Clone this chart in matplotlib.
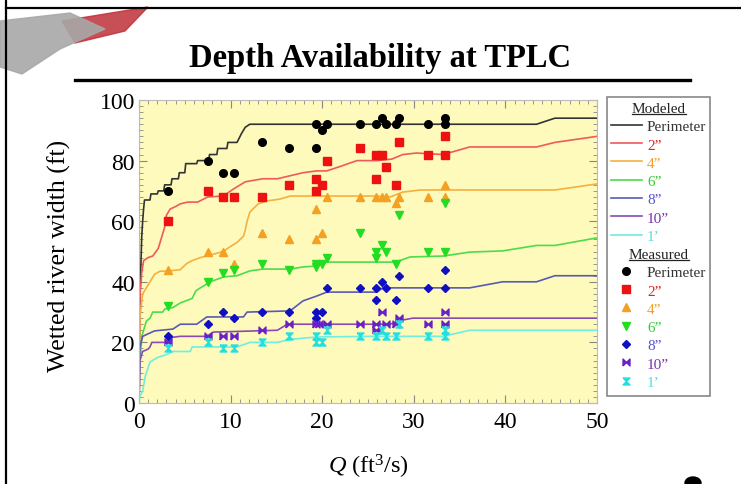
import numpy as np
import matplotlib
matplotlib.use("Agg")
import matplotlib.pyplot as plt
from matplotlib.lines import Line2D
from matplotlib.patches import Rectangle, Polygon, Ellipse
from matplotlib.path import Path

plt.rcParams['font.family'] = ['Liberation Serif', 'DejaVu Serif']
plt.rcParams['mathtext.fontset'] = 'custom'
plt.rcParams['mathtext.rm'] = 'Liberation Serif'
plt.rcParams['mathtext.it'] = 'Liberation Serif:italic'

# ---- modeled curves (Q in ft3/s, width in ft) ----
perim_q = [0.0, 0.05, 0.1, 0.2, 0.3, 0.4, 0.5, 0.6, 1.2, 1.3, 2.0, 2.1, 2.7, 2.8, 3.5, 3.6,
           4.3, 4.4, 5.0, 5.1, 6.3, 6.4, 7.6, 7.7, 8.5, 8.6, 9.6, 9.7, 10.7, 11.2, 11.6, 12.1,
           43.4, 45.4, 50.0]
perim_w = [0, 20, 35, 45, 55, 60, 64, 67, 67, 69, 69, 70, 70, 72, 72, 74,
           74, 76, 76, 79, 79, 80, 80, 82, 82, 84, 84, 86, 86, 89, 91, 92,
           92, 94, 94]

in2_q = [0, 0.05, 0.1, 0.3, 0.5, 1.0, 1.5, 2.1, 2.6, 2.8, 3.0, 3.4, 3.9, 4.5, 5.3, 6.4, 7.5,
         9.2, 10.3, 11.6, 13.5, 15.1, 16.5, 17.9, 19.4, 20.5, 21.9, 23.8, 26.0, 27.6, 28.8,
         30.3, 33.2, 36.1, 43.4, 45.4, 50]
in2_w = [0, 20, 35, 43, 47, 48, 48.5, 51, 56, 58, 62, 64, 64.7, 65.7, 66.3, 66.3, 68,
         68.3, 70.6, 73, 74, 74, 75, 76, 76.6, 76.6, 78, 80, 80, 80.5, 82,
         82.5, 82, 84.5, 84.5, 86, 88]

in4_q = [0, 0.05, 0.1, 0.4, 1.0, 1.7, 2.3, 3.0, 4.5, 5.2, 5.8, 6.7, 8.0, 9.2, 9.9, 10.7, 11.4,
         11.6, 11.8, 12.1, 13.0, 14.0, 15.4, 16.5, 26.0, 27.4, 28.8, 30.7, 45.4, 50]
in4_w = [0, 15, 28, 36, 39, 42.5, 43.5, 43.5, 44, 46, 47, 48, 49, 50, 51.5, 53, 55,
         57, 60, 63, 65.7, 66.7, 67.3, 68.3, 68.3, 68, 69.6, 70.3, 70.3, 72.3]

in6_q = [0, 0.05, 0.3, 0.8, 1.2, 1.5, 2.6, 2.8, 3.7, 4.5, 5.8, 6.2, 6.7, 7.8, 9.2, 10.7, 12.1,
         13.5, 16.5, 17.9, 19.4, 20.5, 28.0, 29.6, 33.2, 36.1, 39.7, 43.4, 45.4, 50]
in6_w = [0, 10, 22, 27, 28, 30, 30, 31, 31.5, 33, 34.5, 37, 38, 40, 41.6, 42, 43.6,
         44.2, 44.2, 44.9, 45.2, 46.5, 46.5, 48.2, 48.5, 49.8, 50.2, 52, 52, 54.5]

in8_q = [0, 0.05, 0.1, 0.4, 1.7, 3.7, 4.5, 6.3, 7.4, 11.4, 11.8, 16.5, 17.9, 19.4, 20.5, 26.0,
         26.6, 36.1, 39.7, 43.4, 45.4, 50]
in8_w = [0, 10, 18.5, 22, 23.8, 24.4, 26, 26, 28.4, 28.4, 30, 30.4, 33.7, 35.3, 36.6, 36.6,
         38, 38, 40, 40, 42, 42]

in10_q = [0, 0.05, 0.1, 0.4, 1.0, 1.2, 1.4, 3.0, 3.7, 4.5, 7.4, 8.1, 15.1, 16.2, 27.4, 28.8,
          29.9, 50]
in10_w = [0, 6, 14, 17, 17.8, 18.5, 20, 20, 21.7, 22, 22, 23.4, 24, 26, 26, 27.4,
          28, 28]

ft1_q = [0, 0.1, 0.4, 0.7, 1.2, 2.0, 3.0, 3.7, 5.6, 5.8, 10.7, 12.1, 15.1, 16.5, 19.4, 26.0,
         33.2, 36.1, 50]
ft1_w = [0, 2.3, 4, 9, 13.5, 15, 16, 17, 17, 18.5, 18.5, 20, 20, 21, 21.8, 22,
         22, 24, 24]

# ---- measured points ----
m_perim_q = [3.2, 7.5, 9.2, 10.4, 13.4, 16.4, 19.3, 19.3, 20.0, 20.5, 24.1, 25.9, 26.5, 27.0,
             28.1, 28.4, 31.6, 33.4, 33.4]
m_perim_w = [70, 80, 76, 76, 86, 84, 84, 92, 90, 92, 92, 92, 94, 92,
             92, 94, 92, 94, 92]

m_in2_q = [3.2, 7.5, 9.2, 10.4, 13.4, 16.4, 19.3, 19.3, 20.0, 20.5, 24.1, 25.9, 25.9, 26.5,
           27.0, 28.1, 28.4, 31.6, 33.4, 33.4]
m_in2_w = [60, 70, 68, 68, 68, 72, 74, 70, 72, 80, 84, 82, 74, 82,
           78, 72, 86, 82, 88, 82]

m_in4_q = [3.2, 7.5, 9.2, 10.4, 13.4, 16.4, 19.3, 19.3, 20.0, 20.5, 24.1, 25.9, 26.5, 27.0,
           28.1, 28.4, 31.6, 33.4, 33.4]
m_in4_w = [44, 50, 50, 46, 56, 54, 54, 64, 56, 68, 68, 68, 68, 68,
           66, 68, 68, 72, 68]

m_in6_q = [3.2, 7.5, 9.2, 10.4, 13.4, 16.4, 19.3, 19.3, 20.0, 20.5, 24.1, 25.9, 25.9, 26.5,
           27.0, 28.1, 28.4, 31.6, 33.4, 33.4]
m_in6_w = [32, 40, 43, 44, 46, 44, 46, 45, 46, 48, 56, 50, 48, 52,
           50, 46, 62, 50, 50, 66]

m_in8_q = [3.2, 7.5, 9.2, 10.4, 13.4, 16.4, 19.3, 19.3, 20.0, 20.5, 24.1, 25.9, 25.9, 26.5,
           27.0, 28.1, 28.4, 31.6, 33.4, 33.4]
m_in8_w = [22, 26, 30, 28, 30, 30, 30, 28, 30, 38, 38, 38, 34, 40,
           38, 34, 42, 38, 38, 44]

m_in10_q = [3.2, 7.5, 9.2, 10.4, 13.4, 16.4, 19.3, 19.7, 20.5, 24.1, 25.9, 25.9, 26.5, 27.0,
            28.1, 28.4, 31.6, 33.4, 33.4]
m_in10_w = [20, 22, 22, 22, 24, 26, 26, 26, 26, 26, 26, 24, 30, 26,
            26, 28, 26, 26, 30]

m_ft1_q = [3.2, 7.5, 9.2, 10.4, 13.4, 16.4, 19.3, 19.3, 20.0, 20.5, 24.1, 25.9, 26.5, 27.0,
           28.1, 28.4, 31.6, 33.4, 33.4]
m_ft1_w = [18, 20, 18, 18, 20, 22, 22, 20, 20, 24, 22, 22, 24, 22,
           22, 26, 22, 22, 24]

labels = ['Perimeter', '2\u201d', '4\u201d', '6\u201d', '8\u201d', '10\u201d', '1\u2019']
line_colors = ['#333333', '#f05a5a', '#f5b040', '#4cdc4c', '#5a5ab4', '#8a4ab0', '#70eee0']
mark_colors = ['#000000', '#ee1111', '#f5a020', '#22dd22', '#1010c0', '#6a20c8', '#22e0e0']
text_colors = ['#333333', '#dd2222', '#f0a030', '#33cc33', '#5555cc', '#7733aa', '#55dddd']

# custom bow-tie / hourglass markers
bowtie = Path([(-1, -1), (-1, 1), (0, 0), (1, 1), (1, -1), (0, 0), (-1, -1)])
hourglass = Path([(-1, 1), (1, 1), (0, 0), (1, -1), (-1, -1), (0, 0), (-1, 1)])
markers = ['o', 's', '^', 'v', 'D', bowtie, hourglass]
msizes = [5.5, 5.5, 5.5, 5.5, 4.5, 5, 5]

model_q = [perim_q, in2_q, in4_q, in6_q, in8_q, in10_q, ft1_q]
model_w = [perim_w, in2_w, in4_w, in6_w, in8_w, in10_w, ft1_w]
meas_q = [m_perim_q, m_in2_q, m_in4_q, m_in6_q, m_in8_q, m_in10_q, m_ft1_q]
meas_w = [m_perim_w, m_in2_w, m_in4_w, m_in6_w, m_in8_w, m_in10_w, m_ft1_w]

W, H = 741, 485
fig = plt.figure(figsize=(W / 100, H / 100), dpi=100)
fig.patch.set_facecolor('white')

# slide decorations
fig.add_artist(Line2D([6 / W, 6 / W], [0, 1], transform=fig.transFigure, color='black', lw=1.6))
fig.add_artist(Line2D([6 / W, 1], [1 - 9 / H, 1 - 9 / H], transform=fig.transFigure, color='black', lw=1.6))
fig.add_artist(Polygon([(62 / W, 1 - 22 / H), (148 / W, 1 - 8 / H), (125 / W, 1 - 32 / H), (75 / W, 1 - 44 / H)],
                       closed=True, transform=fig.transFigure, color='#c0303a', alpha=0.85))
fig.add_artist(Polygon([(0, 1 - 22 / H), (70 / W, 1 - 14 / H), (105 / W, 1 - 30 / H), (60 / W, 1 - 50 / H),
                        (22 / W, 1 - 75 / H), (0, 1 - 68 / H)],
                       closed=True, transform=fig.transFigure, color='#a8a8a8', alpha=0.9))
fig.add_artist(Ellipse((693 / W, 1 - 484 / H), 16 / W, 12 / H, transform=fig.transFigure, color='black'))

fig.text(380 / W, 1 - 58 / H, 'Depth Availability at TPLC', ha='center', va='center',
         fontsize=23.5, fontweight='bold')
fig.add_artist(Line2D([75 / W, 690 / W], [1 - 81 / H, 1 - 81 / H], transform=fig.transFigure,
                      color='black', lw=2.4))

ax = fig.add_axes([139 / W, 1 - 404 / H, (597 - 139) / W, (404 - 101) / H])
ax.set_facecolor('#fdfabb')

for q, w, c in zip(model_q, model_w, line_colors):
    ax.plot(q, w, color=c, lw=1.2)
for q, w, c, m, ms in zip(meas_q, meas_w, mark_colors, markers, msizes):
    ax.plot(q, w, linestyle='none', marker=m, color=c, ms=ms, mec=c)

ax.set_xlim(0, 50)
ax.set_ylim(0, 100)
ax.set_xticks([0, 10, 20, 30, 40, 50])
ax.set_yticks([0, 20, 40, 60, 80, 100])
ax.set_xticks(np.arange(0, 51, 1), minor=True)
ax.set_yticks(np.arange(0, 101, 2), minor=True)
ax.tick_params(which='both', direction='in', top=True, right=True, color='#888888')
ax.tick_params(which='major', length=6, labelsize=17)
ax.tick_params(axis='x', which='major', pad=6)
ax.tick_params(axis='y', which='major', pad=3)
ax.tick_params(which='minor', length=3)
for s in ax.spines.values():
    s.set_color('#bbbbbb')
    s.set_linewidth(0.8)

ax.set_ylabel('Wetted river width (ft)', fontsize=18.5)
ax.yaxis.set_label_coords(-0.148, 0.49)
ax.set_xlabel('$Q$ (ft$^3$/s)', fontsize=17.5)
ax.xaxis.set_label_coords(0.5, -0.16)

# legend box
fig.add_artist(Rectangle((607 / W, 1 - 397 / H), 103 / W, 299 / H, transform=fig.transFigure,
                         fill=False, edgecolor='#888888', lw=1.2))

line_handles = [Line2D([], [], color=c, lw=1.2) for c in line_colors]
mark_handles = [Line2D([], [], linestyle='none', marker=m, color=c, ms=ms, mec=c)
                for c, m, ms in zip(mark_colors, markers, msizes)]

common = dict(loc='upper left', bbox_transform=fig.transFigure, frameon=False, fontsize=11,
              title_fontsize=11, handlelength=2.0, handletextpad=0.35, labelspacing=0.3,
              borderpad=0, borderaxespad=0)
leg1 = ax.legend(line_handles, labels, bbox_to_anchor=(611 / W, 1 - 103 / H), title='Modeled', **common)
ax.add_artist(leg1)
leg2 = ax.legend(mark_handles, labels, bbox_to_anchor=(611 / W, 1 - 249 / H), title='Measured', **common)
for leg in (leg1, leg2):
    for t, c in zip(leg.get_texts(), text_colors):
        t.set_color(c)
    leg.get_title().set_color('#222222')

fig.canvas.draw()
r = fig.canvas.get_renderer()
for leg in (leg1, leg2):
    bb = leg.get_title().get_window_extent(r)
    y = bb.y0 + 1
    fig.add_artist(Line2D([bb.x0 / W, bb.x1 / W], [y / H, y / H], transform=fig.transFigure,
                          color='#222222', lw=0.9))

fig.savefig('out.png', dpi=100)
